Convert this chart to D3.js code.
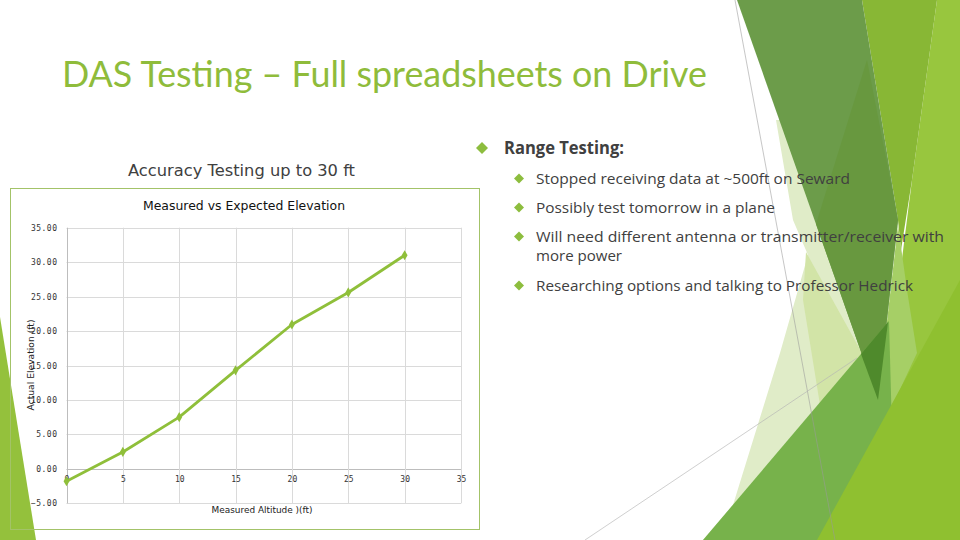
<!DOCTYPE html>
<html>
<head>
<meta charset="utf-8">
<script src="https://cdn.jsdelivr.net/npm/d3@7"></script>
<style>
  html, body { margin: 0; padding: 0; background: #fff; }
  svg { display: block; }
</style>
</head>
<body>
<svg id="slide" width="960" height="540"></svg>
<script>
// ---- data ----
const measuredAltitude = [0, 5, 10, 15, 20, 25, 30];
const actualElevation = [-1.8, 2.45, 7.5, 14.3, 20.95, 25.6, 31.0];
const xTickValues = [0, 5, 10, 15, 20, 25, 30, 35];
const yTickValues = [-5, 0, 5, 10, 15, 20, 25, 30, 35];
const slideTitle = "DAS Testing – Full spreadsheets on Drive";
const leftHeading = "Accuracy Testing up to 30 ft";
const chartTitle = "Measured vs Expected Elevation";
const xAxisTitle = "Measured Altitude )(ft)";
const yAxisTitle = "Actual Elevation (ft)";
const bulletHead = "Range Testing:";
const bulletItems = [
  ["Stopped receiving data at ~500ft on Seward"],
  ["Possibly test tomorrow in a plane"],
  ["Will need different antenna or transmitter/receiver with", "more power"],
  ["Researching options and talking to Professor Hedrick"]
];

const svg = d3.select("#slide");

// ---- decorative background shapes ----
const deco = svg.append("g");
const shapes = [
  {c: "#94c13c", p: [[0,317],[0,540],[36,540]]},
  {c: "#e0ecc8", p: [[776,120],[793,220],[808,255],[780,353],[733,505],[703,540],[800,540],[862,353],[840,250],[782,120]]},
  {c: "#d2e4a7", p: [[806,252],[862,353],[820,405],[803,300]]},
  {c: "#98c63e", p: [[937,0],[960,0],[960,540],[880,540],[893,330],[912,180]]},
  {c: "#88b735", p: [[862,0],[937,0],[912,180],[901,250],[898,220]]},
  {c: "#a6cf66", p: [[898,225],[907,290],[917,353],[882,428],[878,400]]},
  {c: "#6c9c4a", p: [[737,0],[862,0],[898,220],[878,400]]},
  {c: "#68983f", p: [[867,60],[898,220],[878,400],[816,224]]},
  {c: "#77b24b", p: [[889,321],[895,540],[703,540]]},
  {c: "#4f8a2c", p: [[888,322],[878,400],[861,354]]},
  {c: "#8fc030", p: [[960,280],[960,540],[817,540]]}
];
shapes.forEach(s => deco.append("polygon")
  .attr("points", s.p.map(d => d.join(",")).join(" "))
  .attr("fill", s.c));
deco.append("line").attr("x1",735).attr("y1",0).attr("x2",835).attr("y2",540)
  .attr("stroke","#9a9a9a").attr("stroke-width",0.8).attr("opacity",0.7);
deco.append("line").attr("x1",585).attr("y1",540).attr("x2",857).attr("y2",358)
  .attr("stroke","#b5b5b5").attr("stroke-width",0.8).attr("opacity",0.8);

// ---- slide title ----
svg.append("text")
  .attr("x", 62).attr("y", 87)
  .attr("font-family", "Lato, 'Open Sans', sans-serif")
  .attr("font-size", 36)
  .attr("fill", "#8fbc3b")
  .attr("textLength", 645).attr("lengthAdjust", "spacingAndGlyphs")
  .text(slideTitle);

// ---- left heading ----
svg.append("text")
  .attr("x", 128).attr("y", 176)
  .attr("font-family", "'DejaVu Sans', sans-serif")
  .attr("font-size", 15)
  .attr("fill", "#404040")
  .attr("textLength", 227).attr("lengthAdjust", "spacingAndGlyphs")
  .text(leftHeading);

// ---- bullets ----
function diamond(g, cx, cy, r) {
  g.append("path")
    .attr("d", `M${cx},${cy-r} L${cx+r},${cy} L${cx},${cy+r} L${cx-r},${cy} Z`)
    .attr("fill", "#8dbd3e");
}
const bl = svg.append("g");
diamond(bl, 482, 148, 6);
bl.append("text").attr("x", 504).attr("y", 154)
  .attr("font-family", "'Open Sans', sans-serif").attr("font-weight", "bold")
  .attr("font-size", 17).attr("fill", "#404040")
  .attr("textLength", 120).attr("lengthAdjust", "spacingAndGlyphs")
  .text(bulletHead);
const subBaselines = [[183.5], [212.5], [241.5, 260.5], [290.5]];
const subWidths = [[314], [239], [408, 86], [377]];
bulletItems.forEach((lines, i) => {
  diamond(bl, 519, subBaselines[i][0] - 5, 5);
  lines.forEach((t, j) => {
    bl.append("text").attr("x", 536).attr("y", subBaselines[i][j])
      .attr("font-family", "'Open Sans', sans-serif")
      .attr("font-size", 15).attr("fill", "#404040")
      .attr("textLength", subWidths[i][j]).attr("lengthAdjust", "spacingAndGlyphs")
      .text(t);
  });
});

// ---- chart ----
const chart = svg.append("g");
chart.append("rect").attr("x", 10.5).attr("y", 188.5).attr("width", 469).attr("height", 341)
  .attr("fill", "none").attr("stroke", "#a3c368").attr("stroke-width", 1);

chart.append("text").attr("x", 244).attr("y", 210)
  .attr("text-anchor", "middle")
  .attr("font-family", "'DejaVu Sans', sans-serif").attr("font-size", 12)
  .attr("fill", "#111")
  .attr("textLength", 202).attr("lengthAdjust", "spacingAndGlyphs")
  .text(chartTitle);

const x = d3.scaleLinear().domain([0, 35]).range([66.5, 461]);
const y = d3.scaleLinear().domain([-5, 35]).range([503.3, 227.7]);

const grid = chart.append("g");
grid.selectAll("line.h").data(yTickValues).join("line")
  .attr("x1", x(0)).attr("x2", x(35))
  .attr("y1", d => Math.round(y(d)) + 0.5).attr("y2", d => Math.round(y(d)) + 0.5)
  .attr("stroke", d => d === 0 ? "#bdbdbd" : "#dadada").attr("stroke-width", 1);
grid.selectAll("line.v").data(xTickValues).join("line")
  .attr("y1", y(35)).attr("y2", y(-5))
  .attr("x1", d => Math.round(x(d)) + 0.5).attr("x2", d => Math.round(x(d)) + 0.5)
  .attr("stroke", d => d === 0 ? "#bdbdbd" : "#dadada").attr("stroke-width", 1);

// y axis labels
const yAxis = d3.axisLeft(y).tickValues(yTickValues).tickFormat(d3.format(".2f")).tickSize(0).tickPadding(9);
const yg = chart.append("g").attr("transform", `translate(${x(0)},0)`).call(yAxis);
yg.select(".domain").remove();
yg.selectAll("text").attr("font-family", "'DejaVu Sans Mono', monospace").attr("font-size", 8)
  .attr("fill", "#333").attr("letter-spacing", 0.5);

// x axis labels at y=0
const xAxis = d3.axisBottom(x).tickValues(xTickValues).tickFormat(d3.format("d")).tickSize(0).tickPadding(7);
const xg = chart.append("g").attr("transform", `translate(0,${y(0)})`).call(xAxis);
xg.select(".domain").remove();
xg.selectAll("text").attr("font-family", "'DejaVu Sans Mono', monospace").attr("font-size", 8)
  .attr("fill", "#333");

// axis titles
chart.append("text").attr("x", 262).attr("y", 513)
  .attr("text-anchor", "middle")
  .attr("font-family", "'DejaVu Sans', sans-serif").attr("font-size", 9).attr("fill", "#222")
  .attr("textLength", 101).attr("lengthAdjust", "spacingAndGlyphs")
  .text(xAxisTitle);
chart.append("text")
  .attr("transform", "translate(34,365) rotate(-90)")
  .attr("text-anchor", "middle")
  .attr("font-family", "'DejaVu Sans', sans-serif").attr("font-size", 9).attr("fill", "#222")
  .attr("textLength", 91).attr("lengthAdjust", "spacingAndGlyphs")
  .text(yAxisTitle);

// series
const pts = measuredAltitude.map((v, i) => [v, actualElevation[i]]);
chart.append("path").datum(pts)
  .attr("d", d3.line().x(d => x(d[0])).y(d => y(d[1])))
  .attr("fill", "none").attr("stroke", "#8fbf3a").attr("stroke-width", 2.8)
  .attr("stroke-linejoin", "round");
chart.selectAll("path.marker").data(pts).join("path")
  .attr("class", "marker")
  .attr("d", d3.symbol().type(d3.symbolDiamond).size(30))
  .attr("transform", d => `translate(${x(d[0])},${y(d[1])})`)
  .attr("fill", "#8fbf3a");
</script>
</body>
</html>
